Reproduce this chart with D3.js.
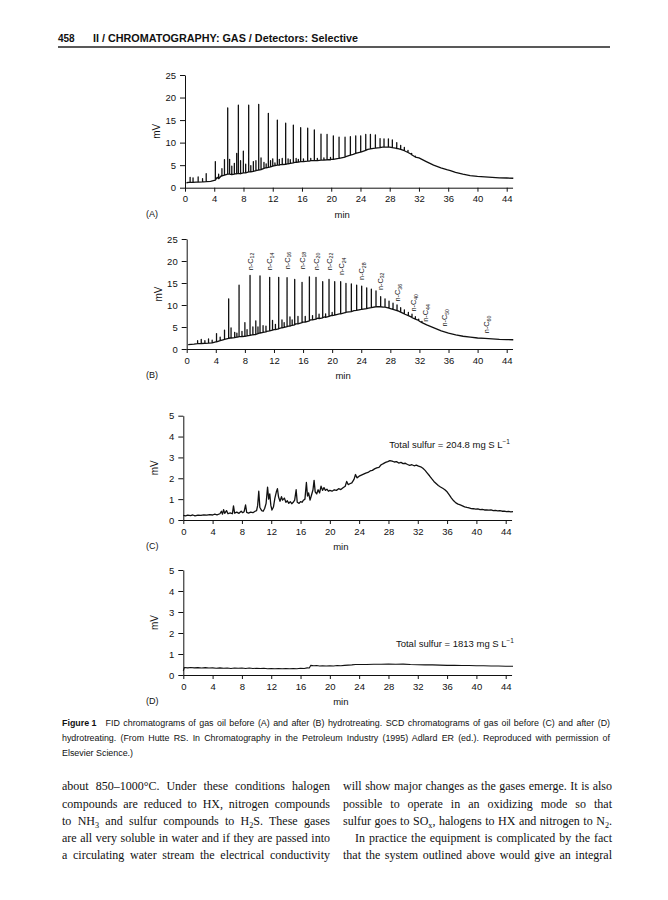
<!DOCTYPE html>
<html><head><meta charset="utf-8">
<script src="https://cdn.jsdelivr.net/npm/d3@7"></script>
<style>
body{margin:0;background:#fff}
svg{display:block}
</style>
</head><body>
<svg id="page" width="668" height="900"></svg>
<script>
// ---------------- DATA ----------------
const timeTicks = [0,4,8,12,16,20,24,28,32,36,40,44];
const fidTicks = [0,5,10,15,20,25];
const scdTicks = [0,1,2,3,4,5];
const panelLetters = ["(A)","(B)","(C)","(D)"];
const axisTitleX = "min";
const axisTitleY = "mV";

// Panel A (FID, before hydrotreating): hump baseline [min, mV]
const baseA = [[0.2,1.1],[0.5,1.2],[1.5,1.25],[2.5,1.3],[3.5,1.4],[4,1.6],[4.4,2.3],[5,2.7],[6,3.0],[7,3.1],[8,3.3],[9,3.5],[10,3.9],[11,4.4],[12,4.8],[13,5.1],[14,5.3],[15,5.6],[16,5.8],[17,5.9],[18,6.0],[19,6.1],[20,6.3],[21,6.5],[22,6.9],[23,7.4],[24,7.9],[25,8.5],[26,8.8],[27,9.0],[28,9.0],[29,8.7],[30,8.2],[31,7.4],[32,6.6],[33,5.8],[34,5.0],[35,4.4],[35.8,4.0],[36.3,3.8],[37,3.4],[38,3.0],[39,2.7],[40,2.5],[41,2.4],[42,2.3],[43,2.2],[44,2.15],[44.9,2.1]];
// Panel A peaks [min, top mV, foot mV]
const peaksA = [[0.7,2.3,1.2],[1.1,2.2,1.2],[1.8,2.4,1.25],[2.4,2.0,1.3],[2.9,3.1,1.35],[4.15,5.8,1.7],[4.6,3.0,2.0],[5.05,4.2,2.6],[5.4,6.2,2.8],[5.84,17.7,3.0],[6.1,6.3,3.0],[6.4,4.8,2.9],[6.75,5.4,3.0],[7.07,7.6,3.1],[7.3,18.3,3.2],[7.6,6.0,3.1],[7.98,8.1,3.3],[8.3,5.2,3.3],[8.71,18.3,3.5],[9.0,4.9,3.5],[9.35,5.8,3.6],[9.7,6.0,3.8],[10.08,18.5,3.9],[10.4,6.6,4.0],[10.8,5.6,4.3],[11.1,5.3,4.4],[11.4,16.5,4.5],[11.7,6.0,4.6],[12.0,6.4,4.8],[12.3,5.5,4.9],[12.63,15.0,5.0],[12.9,6.3,5.0],[13.3,6.5,5.1],[13.77,14.3,5.2],[14.1,6.4,5.3],[14.4,6.2,5.4],[14.82,13.9,5.5],[15.2,6.5,5.6],[15.5,6.3,5.7],[15.82,13.3,5.8],[16.2,6.4,5.8],[16.78,13.2,5.9],[17.2,6.5,6.0],[17.69,12.8,6.0],[18.1,6.5,6.0],[18.6,11.9,6.1],[19.0,6.6,6.1],[19.43,11.8,6.2],[19.9,6.7,6.2],[20.29,11.5,6.3],[21.07,11.2,6.5],[21.89,11.2,6.8],[22.62,11.3,7.2],[23.35,11.5,7.6],[24.03,11.5,7.9],[24.72,11.8,8.3],[25.36,11.8,8.6],[26.04,11.7,8.8],[26.68,10.9,8.9],[27.22,10.8,9.0],[27.82,10.8,9.0],[28.36,10.6,8.9],[28.96,10.0,8.7],[29.5,9.4,8.5],[30.0,8.95,8.2],[30.5,8.3,7.8],[31.0,7.6,7.3],[31.5,7.0,6.8]];

// Panel B (FID, after hydrotreating)
const baseB = [[0.2,1.0],[1,1.1],[2,1.2],[3,1.35],[4,1.6],[5,2.1],[6,2.5],[7,2.7],[8,2.9],[9,3.2],[10,3.6],[11,4.0],[12,4.4],[13,4.8],[14,5.2],[15,5.7],[16,6.1],[17,6.6],[18,7.0],[19,7.3],[20,7.7],[21,8.0],[22,8.4],[23,8.7],[24,9.0],[25,9.3],[26,9.6],[27,9.5],[28,9.2],[29,8.7],[30,7.9],[31,7.1],[32,6.3],[33,5.5],[34,4.8],[35,4.1],[36,3.6],[37,3.2],[38,2.9],[39,2.7],[40,2.5],[41,2.4],[42,2.3],[43,2.2],[44,2.15],[44.9,2.1]];
const peaksB = [[1.5,1.9,1.2],[2.0,2.2,1.25],[2.5,1.9,1.3],[3.0,2.3,1.35],[3.5,2.0,1.4],[4.1,3.5,1.6],[4.6,2.7,1.9],[5.2,4.3,2.2],[5.77,11.4,2.4],[6.1,4.8,2.5],[6.6,3.8,2.6],[6.9,3.6,2.7],[7.2,14.5,2.8],[7.6,4.0,2.8],[8.0,6.0,2.9],[8.3,4.4,3.0],[8.71,16.7,3.1],[9.1,5.0,3.2],[9.5,6.4,3.3],[9.8,5.0,3.5],[10.08,16.6,3.6],[10.5,5.3,3.8],[10.9,5.2,3.9],[11.41,16.3,4.1],[11.8,6.5,4.3],[12.2,5.6,4.4],[12.65,16.3,4.6],[13.1,6.6,4.8],[13.4,6.0,4.9],[13.8,16.2,5.1],[14.2,7.3,5.2],[14.5,6.6,5.4],[14.85,15.8,5.5],[15.3,7.4,5.7],[15.86,15.15,6.0],[16.3,7.4,6.1],[16.87,16.4,6.4],[17.3,7.6,6.6],[17.78,16.3,6.8],[18.2,7.9,6.9],[18.7,15.3,7.1],[19.1,8.0,7.2],[19.57,15.8,7.4],[20.0,8.3,7.6],[20.35,15.3,7.7],[21.17,15.3,8.0],[21.9,14.9,8.3],[22.64,14.8,8.5],[23.37,14.5,8.8],[24.06,14.3,9.0],[24.75,13.9,9.2],[25.39,13.6,9.4],[26.03,13.2,9.6],[26.67,11.9,9.6],[27.27,11.4,9.5],[27.82,10.9,9.3],[28.37,10.4,9.0],[28.92,10.0,8.7],[29.42,9.4,8.4],[29.93,8.9,8.0],[30.48,8.3,7.6],[30.98,7.9,7.2],[31.44,7.35,6.8],[31.9,6.8,6.5],[32.35,6.3,6.0]];
// n-alkane labels in B: [carbon number, min, mV at label foot]
const alkaneLabels = [["12",8.71,17.9],["14",11.41,17.9],["16",13.8,18.1],["18",15.86,18.1],["20",17.78,17.9],["22",19.57,17.9],["24",21.25,16.8],["28",24.1,15.7],["32",26.6,13.4],["36",29.0,10.8],["40",31.2,8.5],["44",32.8,6.2],["50",35.5,5.1],["60",41.2,3.6]];

// Panel C (SCD, before) trace [min, mV]
const traceC = [[0,0.22],[0.3,0.20],[0.6,0.23],[1.0,0.21],[1.3,0.24],[1.6,0.20],[2.0,0.23],[2.4,0.22],[2.8,0.25],[3.2,0.23],[3.6,0.26],[4.0,0.24],[4.3,0.28],[4.6,0.25],[5.0,0.30],[5.2,0.42],[5.35,0.28],[5.5,0.50],[5.65,0.32],[5.9,0.45],[6.1,0.30],[6.4,0.34],[6.7,0.30],[6.85,0.68],[7.0,0.33],[7.3,0.38],[7.6,0.32],[7.9,0.42],[8.1,0.35],[8.3,0.40],[8.5,0.72],[8.65,0.36],[8.9,0.33],[9.2,0.38],[9.5,0.35],[9.8,0.42],[10.0,0.45],[10.15,0.70],[10.3,1.38],[10.45,0.60],[10.7,0.45],[10.9,0.42],[11.1,0.55],[11.3,0.80],[11.5,1.58],[11.65,1.00],[11.8,1.25],[11.95,0.70],[12.1,0.48],[12.3,0.62],[12.5,1.05],[12.7,1.35],[12.85,1.50],[13.0,1.10],[13.2,0.90],[13.4,1.12],[13.55,0.95],[13.8,1.05],[14.0,0.85],[14.2,0.92],[14.4,0.80],[14.6,0.88],[14.8,0.78],[15.0,0.85],[15.2,0.95],[15.4,1.45],[15.55,0.85],[15.8,0.80],[16.0,0.88],[16.2,0.85],[16.4,0.95],[16.6,1.00],[16.8,1.80],[16.95,1.15],[17.1,1.30],[17.3,0.95],[17.5,1.20],[17.7,1.45],[17.85,1.90],[18.0,1.35],[18.2,1.25],[18.4,1.45],[18.6,1.30],[18.8,1.62],[19.0,1.42],[19.2,1.55],[19.4,1.42],[19.6,1.48],[19.8,1.38],[20.0,1.42],[20.3,1.38],[20.6,1.45],[20.9,1.42],[21.2,1.50],[21.5,1.46],[21.8,1.55],[22.1,1.62],[22.3,1.85],[22.5,1.70],[22.8,1.75],[23.0,1.78],[23.3,1.95],[23.5,2.18],[23.7,2.02],[24.0,2.10],[24.3,2.15],[24.6,2.20],[24.9,2.25],[25.2,2.28],[25.5,2.35],[25.8,2.38],[26.1,2.45],[26.4,2.50],[26.7,2.52],[27.0,2.65],[27.3,2.70],[27.6,2.76],[27.9,2.80],[28.2,2.85],[28.5,2.82],[28.8,2.78],[29.1,2.80],[29.4,2.73],[29.7,2.76],[30.0,2.70],[30.3,2.72],[30.6,2.66],[30.9,2.62],[31.2,2.65],[31.5,2.60],[31.8,2.63],[32.1,2.58],[32.4,2.55],[32.7,2.48],[33.0,2.38],[33.3,2.25],[33.6,2.12],[33.9,1.98],[34.2,1.85],[34.5,1.75],[34.8,1.65],[35.1,1.58],[35.4,1.52],[35.7,1.45],[36.0,1.35],[36.3,1.20],[36.6,1.05],[36.9,0.92],[37.2,0.82],[37.5,0.76],[37.8,0.72],[38.1,0.68],[38.4,0.63],[38.7,0.60],[39.0,0.58],[39.3,0.55],[39.6,0.54],[39.9,0.52],[40.2,0.53],[40.5,0.50],[40.8,0.51],[41.1,0.48],[41.4,0.49],[41.7,0.47],[42.0,0.48],[42.3,0.45],[42.6,0.46],[42.9,0.44],[43.2,0.45],[43.5,0.42],[43.8,0.43],[44.1,0.40],[44.4,0.41],[44.7,0.39],[45.0,0.40]];

// Panel D (SCD, after) trace [min, mV]
const traceD = [[0,0.20],[0.15,0.36],[0.6,0.34],[1.0,0.36],[1.5,0.34],[2.0,0.35],[2.5,0.33],[3.0,0.35],[3.5,0.33],[4.0,0.34],[4.5,0.32],[5.0,0.34],[5.5,0.32],[6.0,0.33],[6.5,0.31],[7.0,0.33],[7.5,0.32],[8.0,0.33],[8.5,0.31],[9.0,0.33],[9.5,0.31],[10.0,0.32],[10.5,0.31],[11.0,0.32],[11.5,0.30],[12.0,0.31],[12.5,0.30],[13.0,0.31],[13.5,0.30],[14.0,0.31],[14.5,0.30],[15.0,0.31],[15.5,0.30],[16.0,0.32],[16.5,0.31],[16.9,0.34],[17.2,0.33],[17.4,0.46],[17.8,0.44],[18.2,0.45],[18.6,0.43],[19.0,0.44],[19.5,0.43],[20.0,0.44],[20.5,0.43],[21.0,0.45],[21.5,0.44],[22.0,0.46],[22.5,0.47],[23.0,0.48],[23.5,0.50],[24.0,0.50],[25.0,0.50],[26.0,0.51],[27.0,0.51],[28.0,0.52],[29.0,0.51],[30.0,0.52],[31.0,0.50],[32.0,0.49],[33.0,0.48],[34.0,0.48],[35.0,0.47],[36.0,0.46],[37.0,0.46],[38.0,0.45],[39.0,0.45],[40.0,0.44],[41.0,0.44],[42.0,0.43],[43.0,0.43],[44.0,0.42],[45.0,0.42]];

const sulfurTotals = ["204.8","1813"];

// text content
const headerFolio = "458";
const headerTitle = "II / CHROMATOGRAPHY: GAS / Detectors: Selective";
const captionLines = [
  "FID chromatograms of gas oil before (A) and after (B) hydrotreating. SCD chromatograms of gas oil before (C) and after (D)",
  "hydrotreating. (From Hutte RS. In Chromatography in the Petroleum Industry (1995) Adlard ER (ed.). Reproduced with permission of",
  "Elsevier Science.)"
];
const bodyLeft = [
  "about 850–1000°C. Under these conditions halogen",
  "compounds are reduced to HX, nitrogen compounds",
  "to NH_3 and sulfur compounds to H_2S. These gases",
  "are all very soluble in water and if they are passed into",
  "a circulating water stream the electrical conductivity"
];
const bodyRight = [
  "will show major changes as the gases emerge. It is also",
  "possible to operate in an oxidizing mode so that",
  "sulfur goes to SO_x, halogens to HX and nitrogen to N_2.",
  "  In practice the equipment is complicated by the fact",
  "that the system outlined above would give an integral"
];

// ---------------- DRAW ----------------
const svg = d3.select("#page");
const SANS = "'Liberation Sans', Arial, Helvetica, sans-serif";
const SERIF = "'Liberation Serif', 'Times New Roman', serif";

function mergeSeries(base, peaks){
  const pts = base.map(d => [d[0], d[1]]);
  peaks.forEach(p => { pts.push([p[0], p[2]], [p[0], p[1]], [p[0], p[2]]); });
  return pts.map((d,i)=>({d,i})).sort((a,b)=> a.d[0]-b.d[0] || a.i-b.i).map(o=>o.d);
}

function drawPanel(cfg){
  const g = svg.append("g");
  const k = (cfg.x44 - cfg.x0) / 44;
  const x = d3.scaleLinear().domain([0, 44.8]).range([cfg.x0, cfg.x0 + 44.8*k]);
  const y = d3.scaleLinear().domain([0, cfg.yMax]).range([cfg.yb, cfg.yt]);

  const xa = g.append("g").attr("transform", `translate(0,${cfg.yb})`)
    .call(d3.axisBottom(x).tickValues(timeTicks).tickSize(4).tickSizeOuter(0).tickPadding(4).tickFormat(d3.format("d")));
  const ya = g.append("g").attr("transform", `translate(${cfg.x0},0)`)
    .call(d3.axisLeft(y).tickValues(cfg.yTicks).tickSize(5).tickSizeOuter(0).tickPadding(4).tickFormat(d3.format("d")));
  [xa, ya].forEach(a => {
    a.attr("font-family", SANS).attr("font-size", 9.5);
    a.selectAll("path,line").attr("stroke", "#111").attr("stroke-width", 1);
    a.selectAll("text").attr("fill", "#111");
  });

  g.append("path").datum(cfg.series)
    .attr("fill", "none").attr("stroke", "#111").attr("stroke-width", cfg.sw)
    .attr("stroke-linejoin", "round")
    .attr("d", d3.line().x(d => x(d[0])).y(d => y(d[1])));

  g.append("text").attr("x", x(21.5)).attr("y", cfg.yb + 30)
    .attr("text-anchor", "middle").attr("font-family", SANS).attr("font-size", 9.5).attr("fill", "#111")
    .text(axisTitleX);
  g.append("text").attr("transform", `translate(${cfg.x0 - 25},${(cfg.yb+cfg.yt)/2}) rotate(-90)`)
    .attr("text-anchor", "middle").attr("font-family", SANS).attr("font-size", 10).attr("fill", "#111")
    .text(axisTitleY);
  g.append("text").attr("x", 146).attr("y", cfg.yb + 29)
    .attr("font-family", SANS).attr("font-size", 9).attr("fill", "#111")
    .text(cfg.letter);
  return {g, x, y};
}

const pA = drawPanel({x0:185, x44:506.7, yb:187.7, yt:75, yMax:25, yTicks:fidTicks, series: mergeSeries(baseA, peaksA), sw:1.3, letter: panelLetters[0]});
const pB = drawPanel({x0:186.7, x44:506.7, yb:349, yt:239, yMax:25, yTicks:fidTicks, series: mergeSeries(baseB, peaksB), sw:1.3, letter: panelLetters[1]});
const pC = drawPanel({x0:183.3, x44:505.7, yb:520, yt:415.7, yMax:5, yTicks:scdTicks, series: traceC, sw:1.3, letter: panelLetters[2]});
const pD = drawPanel({x0:183.3, x44:505.7, yb:675, yt:570, yMax:5, yTicks:scdTicks, series: traceD, sw:1.1, letter: panelLetters[3]});

// n-alkane labels
alkaneLabels.forEach(([c, t, v]) => {
  const tx = pB.g.append("text")
    .attr("transform", `translate(${pB.x(t)+2.5},${pB.y(v)}) rotate(-90)`)
    .attr("font-family", SANS).attr("font-size", 7.3).attr("fill", "#111");
  tx.append("tspan").text("n-C");
  tx.append("tspan").attr("font-size", 5.2).attr("dy", 1.8).text(c);
});

// Total sulfur annotations
function sulfur(p, val, xEnd, yBase){
  const t = p.g.append("text").attr("x", xEnd).attr("y", yBase).attr("text-anchor", "end")
    .attr("font-family", SANS).attr("font-size", 9.5).attr("fill", "#111");
  t.append("tspan").text(`Total sulfur = ${val} mg S L`);
  t.append("tspan").attr("font-size", 6.5).attr("dy", -4).text("−1");
}
sulfur(pC, sulfurTotals[0], 510, 447.5);
sulfur(pD, sulfurTotals[1], 514, 646.5);

// Header
svg.append("text").attr("x", 58).attr("y", 42).attr("font-family", SANS).attr("font-weight", "bold").attr("font-size", 10).attr("fill", "#111").text(headerFolio);
svg.append("text").attr("x", 93).attr("y", 42).attr("font-family", SANS).attr("font-weight", "bold").attr("font-size", 10).attr("fill", "#111")
  .attr("textLength", 265).attr("lengthAdjust", "spacingAndGlyphs").text(headerTitle);
svg.append("line").attr("x1", 58).attr("x2", 610).attr("y1", 47).attr("y2", 47).attr("stroke", "#222").attr("stroke-width", 1.4);

// line helper with subscripts (baseline-shift keeps following text on the baseline)
function richLine(x, yb, str, size, family, width, justify){
  const t = svg.append("text").attr("x", x).attr("y", yb).attr("font-family", family).attr("font-size", size).attr("fill", "#111");
  const parts = str.split(/(_[0-9a-z])/);
  parts.forEach(p => {
    if (p.startsWith("_")) {
      t.append("tspan").attr("font-size", size*0.68).attr("baseline-shift", -size*0.25).text(p.slice(1));
    } else if (p.length) {
      t.append("tspan").text(p);
    }
  });
  if (justify) {
    const natural = t.node().getComputedTextLength();
    const spaces = (str.trim().match(/ /g) || []).length;
    if (spaces > 0) t.attr("word-spacing", (width - natural) / spaces);
  }
  return t;
}

// Caption
{
  const cy = [726, 741, 756];
  const cs = 8.9;
  const first = svg.append("text").attr("x", 62).attr("y", cy[0]).attr("font-family", SANS).attr("font-size", cs).attr("fill", "#111");
  first.append("tspan").attr("font-weight", "bold").text("Figure 1");
  const fw = first.node().getComputedTextLength();
  richLine(62 + fw + 9, cy[0], captionLines[0], cs, SANS, 548 - fw - 9, true);
  richLine(62, cy[1], captionLines[1], cs, SANS, 548, true);
  richLine(62, cy[2], captionLines[2], cs, SANS, 548, false);
}

// Body
{
  const by = [790, 807.5, 825, 842, 859];
  bodyLeft.forEach((s, i) => richLine(62, by[i], s, 12, SERIF, 268, true));
  bodyRight.forEach((s, i) => {
    const indent = s.startsWith("  ") ? 12 : 0;
    richLine(343 + indent, by[i], s.trim(), 12, SERIF, 269 - indent, true);
  });
}
</script>
</body></html>
